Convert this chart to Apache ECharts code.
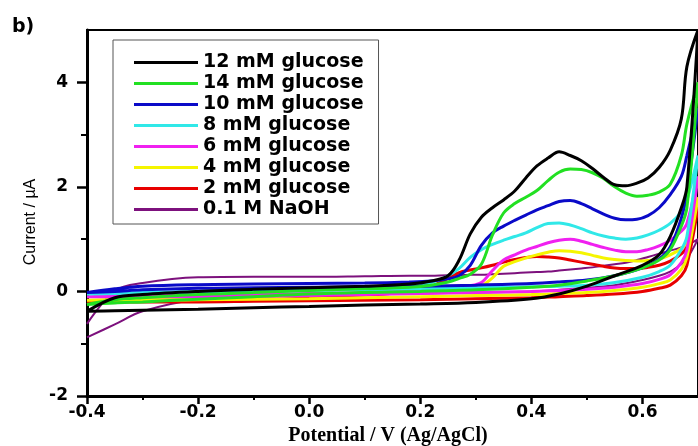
<!DOCTYPE html>
<html>
<head>
<meta charset="utf-8">
<script src="https://cdn.jsdelivr.net/npm/echarts@6.0.0/dist/echarts.min.js"></script>
<style>
  html, body { margin: 0; padding: 0; background: #fff; }
  #chart { width: 698px; height: 446px; }
</style>
</head>
<body>
<div id="chart"></div>
<script>
// Potential grids (V vs Ag/AgCl): anodic sweep, then the return sweep
const FWD_POTENTIAL = [-0.4, -0.35, -0.3, -0.2, -0.1, 0, 0.1, 0.2, 0.3, 0.4, 0.45, 0.5, 0.55, 0.6, 0.63, 0.65, 0.67, 0.68, 0.7];
const REV_POTENTIAL = [0.7, 0.68, 0.67, 0.65, 0.63, 0.61, 0.59, 0.57, 0.55, 0.53, 0.51, 0.49, 0.47, 0.45, 0.43, 0.41, 0.39, 0.37, 0.35, 0.33, 0.31, 0.29, 0.27, 0.25, 0.22, 0.18, 0.1, 0, -0.1, -0.2, -0.3, -0.35, -0.4];

// Current (µA) on each sweep
const GLU12_FWD = [-0.38, -0.37, -0.36, -0.34, -0.31, -0.29, -0.26, -0.24, -0.21, -0.14, -0.05, 0.1, 0.3, 0.5, 0.7, 1.05, 1.6, 2.0, 5.0];
const GLU12_REV = [5.0, 4.3, 3.3, 2.7, 2.37, 2.17, 2.07, 2.02, 2.04, 2.18, 2.35, 2.5, 2.6, 2.67, 2.55, 2.4, 2.17, 1.92, 1.75, 1.6, 1.42, 1.1, 0.6, 0.3, 0.2, 0.14, 0.1, 0.07, 0.04, 0.0, -0.06, -0.12, -0.38];

const GLU14_FWD = [-0.25, -0.22, -0.2, -0.15, -0.1, -0.05, -0.02, 0.0, 0.03, 0.08, 0.12, 0.2, 0.3, 0.45, 0.6, 0.8, 1.25, 1.6, 4.0];
const GLU14_REV = [4.0, 3.2, 2.6, 2.05, 1.9, 1.84, 1.82, 1.88, 2.0, 2.16, 2.27, 2.33, 2.34, 2.28, 2.12, 1.93, 1.8, 1.68, 1.5, 1.08, 0.52, 0.33, 0.25, 0.18, 0.12, 0.08, 0.05, 0.02, -0.02, -0.06, -0.12, -0.16, -0.25];

const GLU10_FWD = [-0.02, 0.0, 0.03, 0.06, 0.07, 0.08, 0.09, 0.1, 0.12, 0.15, 0.18, 0.22, 0.3, 0.45, 0.62, 0.85, 1.4, 1.9, 3.5];
const GLU10_REV = [3.5, 2.6, 2.2, 1.85, 1.6, 1.45, 1.38, 1.37, 1.4, 1.48, 1.58, 1.68, 1.74, 1.72, 1.64, 1.56, 1.46, 1.36, 1.25, 1.12, 0.88, 0.5, 0.3, 0.24, 0.2, 0.18, 0.16, 0.15, 0.14, 0.13, 0.1, 0.05, -0.02];

const GLU8_FWD = [-0.05, -0.04, -0.03, -0.01, 0.0, 0.02, 0.03, 0.05, 0.07, 0.09, 0.1, 0.12, 0.17, 0.27, 0.38, 0.5, 0.8, 1.05, 2.6];
const GLU8_REV = [2.6, 1.74, 1.52, 1.3, 1.17, 1.08, 1.02, 1.0, 1.02, 1.06, 1.12, 1.2, 1.27, 1.31, 1.3, 1.22, 1.12, 1.05, 0.98, 0.9, 0.8, 0.65, 0.44, 0.3, 0.17, 0.1, 0.05, 0.03, 0.02, 0.0, -0.02, -0.03, -0.05];

const GLU6_FWD = [-0.1, -0.1, -0.1, -0.1, -0.09, -0.08, -0.06, -0.04, -0.02, 0.0, 0.02, 0.04, 0.08, 0.15, 0.23, 0.32, 0.55, 0.8, 2.2];
const GLU6_REV = [2.2, 1.3, 1.15, 0.98, 0.87, 0.8, 0.76, 0.76, 0.79, 0.84, 0.9, 0.96, 1.0, 0.98, 0.93, 0.86, 0.79, 0.7, 0.6, 0.4, 0.17, 0.11, 0.1, 0.08, 0.05, 0.02, -0.02, -0.04, -0.06, -0.07, -0.08, -0.09, -0.1];

const GLU4_FWD = [-0.17, -0.17, -0.17, -0.16, -0.15, -0.14, -0.12, -0.1, -0.08, -0.06, -0.04, -0.02, 0.02, 0.08, 0.15, 0.22, 0.42, 0.65, 1.8];
const GLU4_REV = [1.8, 0.95, 0.82, 0.7, 0.62, 0.59, 0.58, 0.59, 0.61, 0.64, 0.69, 0.74, 0.77, 0.78, 0.75, 0.7, 0.64, 0.57, 0.48, 0.26, 0.11, 0.07, 0.06, 0.04, 0.02, 0.0, -0.04, -0.07, -0.1, -0.12, -0.14, -0.15, -0.17];

const GLU2_FWD = [-0.2, -0.2, -0.2, -0.2, -0.19, -0.18, -0.17, -0.16, -0.14, -0.12, -0.1, -0.08, -0.05, 0.0, 0.06, 0.12, 0.3, 0.5, 1.6];
const GLU2_REV = [1.6, 0.85, 0.72, 0.58, 0.5, 0.46, 0.44, 0.44, 0.45, 0.48, 0.52, 0.56, 0.6, 0.64, 0.66, 0.67, 0.65, 0.61, 0.56, 0.5, 0.45, 0.41, 0.36, 0.25, 0.1, 0.0, -0.07, -0.1, -0.13, -0.15, -0.17, -0.18, -0.2];

const NAOH_FWD = [-0.88, -0.63, -0.38, -0.15, -0.1, -0.08, -0.06, -0.04, -0.02, 0.0, 0.03, 0.07, 0.12, 0.22, 0.3, 0.38, 0.52, 0.62, 1.0];
const NAOH_REV = [1.0, 0.88, 0.84, 0.78, 0.72, 0.66, 0.6, 0.55, 0.52, 0.49, 0.46, 0.44, 0.42, 0.4, 0.38, 0.37, 0.36, 0.35, 0.34, 0.33, 0.32, 0.32, 0.31, 0.31, 0.3, 0.3, 0.29, 0.28, 0.28, 0.27, 0.16, 0.01, -0.62];

// Axis ticks
const X_MAJOR = [-0.4, -0.2, 0, 0.2, 0.4, 0.6];
const X_MINOR = [-0.3, -0.1, 0.1, 0.3, 0.5];
const Y_MAJOR = [-2, 0, 2, 4];
const Y_MINOR = [-1, 1, 3];

const LEGEND_ORDER = ['12 mM glucose', '14 mM glucose', '10 mM glucose', '8 mM glucose',
                      '6 mM glucose', '4 mM glucose', '2 mM glucose', '0.1 M NaOH'];

// Drawing order: the blank first, the highest concentrations last
const CURVES = [
  { name: '0.1 M NaOH',    color: '#7d117d', width: 2, fwd: NAOH_FWD,  rev: NAOH_REV },
  { name: '2 mM glucose',  color: '#e80000', width: 3, fwd: GLU2_FWD,  rev: GLU2_REV },
  { name: '4 mM glucose',  color: '#f5f500', width: 3, fwd: GLU4_FWD,  rev: GLU4_REV },
  { name: '6 mM glucose',  color: '#f020f0', width: 3, fwd: GLU6_FWD,  rev: GLU6_REV },
  { name: '8 mM glucose',  color: '#30e8e8', width: 3, fwd: GLU8_FWD,  rev: GLU8_REV },
  { name: '10 mM glucose', color: '#0a0ac8', width: 3, fwd: GLU10_FWD, rev: GLU10_REV },
  { name: '14 mM glucose', color: '#22e022', width: 3, fwd: GLU14_FWD, rev: GLU14_REV },
  { name: '12 mM glucose', color: '#000000', width: 3, fwd: GLU12_FWD, rev: GLU12_REV }
];

function cycle(fwd, rev) {
  return FWD_POTENTIAL.map((v, i) => [v, fwd[i]])
    .concat(REV_POTENTIAL.map((v, i) => [v, rev[i]]));
}

const tickFont = { fontFamily: '"DejaVu Sans"', fontWeight: 'bold', fontSize: 17, color: '#000' };

const chart = echarts.init(document.getElementById('chart'), null, { renderer: 'canvas' });
chart.setOption({
  animation: false,
  backgroundColor: '#fff',
  grid: {
    left: 87, right: -11, top: 30, bottom: 50,
    show: true, borderColor: '#000', borderWidth: 2, backgroundColor: 'transparent'
  },
  xAxis: [
    {
      type: 'value', min: -0.4, max: 0.7, interval: 0.2, position: 'bottom',
      axisLine: { show: true, onZero: false, lineStyle: { color: '#000', width: 3 } },
      axisTick: { show: true, inside: false, length: 8, customValues: X_MAJOR, lineStyle: { color: '#000', width: 2.5 } },
      axisLabel: { customValues: X_MAJOR, margin: 8, formatter: v => v.toFixed(1), ...tickFont },
      splitLine: { show: false }
    },
    {
      type: 'value', min: -0.4, max: 0.7, position: 'bottom',
      axisLine: { show: false, onZero: false },
      axisTick: { show: true, inside: false, length: 4, customValues: X_MINOR, lineStyle: { color: '#000', width: 2 } },
      axisLabel: { show: false },
      splitLine: { show: false }
    }
  ],
  yAxis: [
    {
      type: 'value', min: -2, max: 5, interval: 2, position: 'left',
      axisLine: { show: true, onZero: false, lineStyle: { color: '#000', width: 3 } },
      axisTick: { show: true, inside: false, length: 10, customValues: Y_MAJOR, lineStyle: { color: '#000', width: 2.5 } },
      axisLabel: { customValues: Y_MAJOR, margin: 19, ...tickFont },
      splitLine: { show: false }
    },
    {
      type: 'value', min: -2, max: 5, position: 'left',
      axisLine: { show: false, onZero: false },
      axisTick: { show: true, inside: false, length: 6, customValues: Y_MINOR, lineStyle: { color: '#000', width: 2 } },
      axisLabel: { show: false },
      splitLine: { show: false }
    }
  ],
  legend: {
    data: LEGEND_ORDER,
    orient: 'vertical',
    left: 113, top: 40,
    icon: 'rect',
    itemWidth: 64, itemHeight: 3, itemGap: 2,
    padding: [13, 15, 5, 21],
    borderColor: '#555', borderWidth: 1,
    selectedMode: false,
    textStyle: { fontFamily: '"DejaVu Sans"', fontWeight: 'bold', fontSize: 19, lineHeight: 19, color: '#000' }
  },
  graphic: [
    { type: 'text', left: 12, top: 18, style: { text: 'b)', font: 'bold 19px "DejaVu Sans"', fill: '#000' } },
    { type: 'text', x: 31, y: 222, rotation: Math.PI / 2,
      style: { text: 'Current / µA', font: '16px "Liberation Sans"', fill: '#000', textAlign: 'center', textVerticalAlign: 'middle' } },
    { type: 'text', x: 388, y: 436,
      style: { text: 'Potential / V (Ag/AgCl)', font: 'bold 20px "Liberation Serif"', fill: '#000', textAlign: 'center', textVerticalAlign: 'middle' } }
  ],
  series: CURVES.map(c => ({
    name: c.name,
    type: 'line',
    xAxisIndex: 0, yAxisIndex: 0,
    data: cycle(c.fwd, c.rev),
    color: c.color,
    showSymbol: false,
    symbol: 'none',
    smooth: 0.35,
    clip: true,
    lineStyle: { color: c.color, width: c.width },
    emphasis: { disabled: true }
  }))
});
</script>
</body>
</html>
